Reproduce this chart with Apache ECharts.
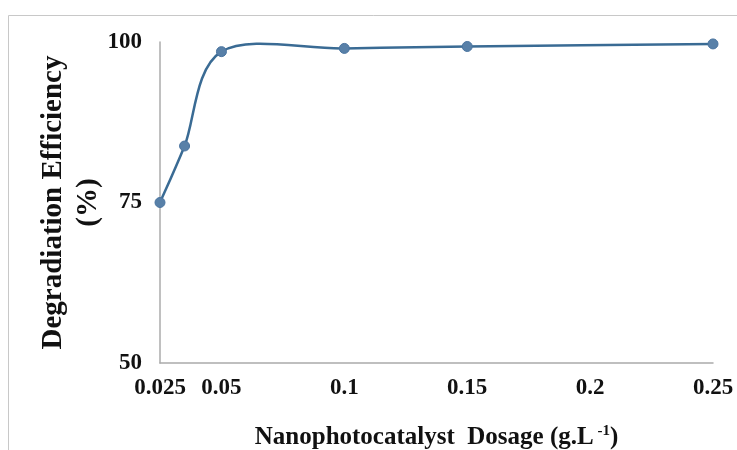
<!DOCTYPE html>
<html>
<head>
<meta charset="utf-8">
<script src="https://cdn.jsdelivr.net/npm/echarts@6/dist/echarts.min.js"></script>
<style>
html,body{margin:0;padding:0;background:#fff;}
#c{width:737px;height:450px;}
</style>
</head>
<body>
<div id="c"></div>
<script>
const dosage = [0.025, 0.035, 0.05, 0.1, 0.15, 0.25];
const efficiency = [75, 83.8, 98.5, 99.0, 99.3, 99.7];
const xTickValues = [0.025, 0.05, 0.1, 0.15, 0.2, 0.25];
const yTickValues = [50, 75, 100];
const xTitle = 'Nanophotocatalyst  Dosage ';
const yTitle = 'Degradiation Efficiency\n(%)';

const points = dosage.map((d, i) => [d, efficiency[i]]);
const font = '"Liberation Serif", "Times New Roman", serif';
const lineColor = '#3A6B94';

// Excel-like smoothed line (Catmull-Rom -> Bezier), positions from the axes via api.coord
function renderSegment(params, api) {
  const i = params.dataIndex;
  if (i >= points.length - 1) return null;
  const P = k => api.coord(points[Math.max(0, Math.min(points.length - 1, k))]);
  const p0 = P(i - 1), p1 = P(i), p2 = P(i + 1), p3 = P(i + 2);
  return {
    type: 'bezierCurve',
    shape: {
      x1: p1[0], y1: p1[1],
      cpx1: p1[0] + (p2[0] - p0[0]) / 6, cpy1: p1[1] + (p2[1] - p0[1]) / 6,
      cpx2: p2[0] - (p3[0] - p1[0]) / 6, cpy2: p2[1] - (p3[1] - p1[1]) / 6,
      x2: p2[0], y2: p2[1]
    },
    style: { fill: 'none', stroke: lineColor, lineWidth: 2.5 }
  };
}

const chart = echarts.init(document.getElementById('c'));
chart.setOption({
  backgroundColor: '#fff',
  animation: false,
  graphic: [{
    type: 'rect',
    shape: { x: 8.5, y: 15.5, width: 800, height: 500 },
    style: { fill: 'none', stroke: '#C8C8C8', lineWidth: 1 },
    silent: true
  }],
  grid: { left: 160, right: 24, top: 42, bottom: 87, outerBoundsMode: 'none', containLabel: false },
  xAxis: {
    type: 'value',
    min: 0.025,
    max: 0.25,
    splitLine: { show: false },
    axisTick: { show: false },
    axisLine: { lineStyle: { color: '#ABABAB', width: 1.5 } },
    axisLabel: {
      customValues: xTickValues,
      margin: 14,
      fontFamily: font,
      fontWeight: 'bold',
      fontSize: 23,
      color: '#111',
      formatter: v => String(+v.toFixed(3))
    },
    name: '{t|' + xTitle + '(g.L}{s| -1}{t|)}',
    nameLocation: 'middle',
    nameGap: 61,
    nameMoveOverlap: false,
    nameTextStyle: {
      rich: {
        t: { fontFamily: font, fontWeight: 'bold', fontSize: 25, color: '#111' },
        s: { fontFamily: font, fontWeight: 'bold', fontSize: 15, color: '#111', verticalAlign: 'top', padding: [0, 0, 12, 0] }
      }
    }
  },
  yAxis: {
    type: 'value',
    min: 50,
    max: 100,
    interval: 25,
    splitLine: { show: false },
    axisTick: { show: false },
    axisLine: { show: true, lineStyle: { color: '#ABABAB', width: 1.5 } },
    axisLabel: {
      customValues: yTickValues,
      margin: 18,
      fontFamily: font,
      fontWeight: 'bold',
      fontSize: 23,
      color: '#111'
    },
    name: yTitle,
    nameLocation: 'middle',
    nameRotate: 90,
    nameGap: 54,
    nameMoveOverlap: false,
    nameTextStyle: {
      fontFamily: font,
      fontWeight: 'bold',
      fontSize: 29,
      lineHeight: 35,
      color: '#111'
    }
  },
  series: [{
    type: 'custom',
    data: points,
    clip: false,
    renderItem: renderSegment,
    z: 2
  }, {
    type: 'scatter',
    data: points,
    symbol: 'circle',
    symbolSize: 10,
    itemStyle: { color: '#5880A8', borderColor: '#4A74A0', borderWidth: 1, opacity: 1 },
    z: 3
  }]
});
</script>
</body>
</html>
